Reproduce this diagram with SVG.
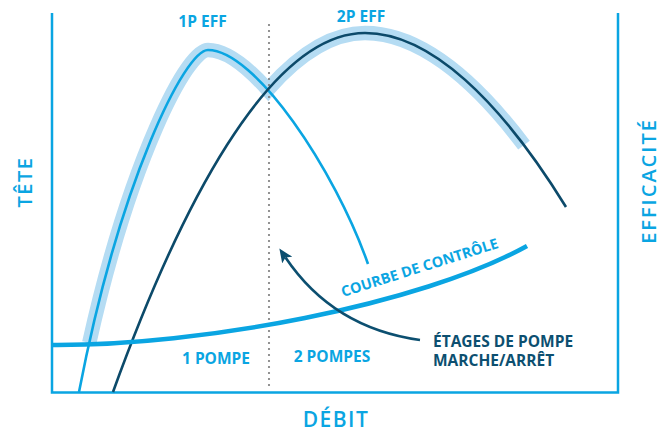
<svg xmlns="http://www.w3.org/2000/svg" width="667" height="430" viewBox="0 0 667 430">
<style>
.t{font-family:"Open Sans","Liberation Sans",sans-serif;}
.lb{fill:#0aa5e2;}
.nv{fill:#0c4f70;}
.b{font-weight:700;font-size:15.5px;}
.ax{font-weight:600;font-size:20px;letter-spacing:1.5px;}
.curve{fill:none;stroke-linecap:butt;}
</style>
<defs>
<marker id="ah" markerUnits="userSpaceOnUse" viewBox="0 0 14 12" refX="3" refY="6" markerWidth="14" markerHeight="12" orient="auto">
<path d="M0,0 L14,6 L0,12 L3,6 Z" fill="#0c4f70"/>
</marker>
</defs>
<rect width="667" height="430" fill="#ffffff"/>
<g id="axes">
<path d="M52,13 V392.5 H618 V13" fill="none" stroke="#0aa5e2" stroke-width="2.5"/>
</g>
<g id="connectors">
<path id="halo" class="curve" d="M89.26,342.71 C130.13,160.03 186.84,50 208,50 C224.92,50 246.12,65.55 267.86,89.84 L269.2,88.08 C299.85,53.69 332.02,33 365,33 C416.35,33 470.82,74.81 523.97,145.13" stroke="#b5dcf3" stroke-width="14.5" stroke-linejoin="miter"/>
<path id="divider" d="M269,25 V386" stroke="#7a7a7a" stroke-width="2.2" stroke-linecap="round" stroke-dasharray="0 6" fill="none"/>
<path id="curve-1p" class="curve" d="M79,392 C120,180 185,50 208,50 C255,50 335,170 368,264" stroke="#0aa5e2" stroke-width="2.6"/>
<path id="curve-2p" class="curve" d="M113,392 C178,212 268,33 365,33 C430,33 500,100 566,207" stroke="#0c4a6a" stroke-width="2.6"/>
<path id="control-curve" class="curve" d="M52,345 C200,346 420,305 527,246" stroke="#0aa5e2" stroke-width="4.5"/>
<path id="arrow" class="curve" d="M420,340 Q333,328 285.5,257.5" stroke="#0c4f70" stroke-width="2.6" marker-end="url(#ah)"/>
</g>
<g id="label-1p-eff"><text class="t lb b" x="202.5" y="26.5" text-anchor="middle">1P EFF</text></g>
<g id="label-2p-eff"><text class="t lb b" x="361" y="22" text-anchor="middle">2P EFF</text></g>
<g id="label-tete"><text class="t lb ax" transform="translate(31.5,182) rotate(-90)" text-anchor="middle">TÊTE</text></g>
<g id="label-efficacite"><text class="t lb ax" transform="translate(656,181) rotate(-90)" text-anchor="middle" style="letter-spacing:2px">EFFICACITÉ</text></g>
<g id="label-debit"><text class="t lb ax" x="336" y="426.5" text-anchor="middle" style="font-size:21px">DÉBIT</text></g>
<g id="label-1-pompe"><text class="t lb b" x="216" y="364" text-anchor="middle">1 POMPE</text></g>
<g id="label-2-pompes"><text class="t lb b" x="332" y="362" text-anchor="middle">2 POMPES</text></g>
<g id="label-courbe"><text class="t lb b" transform="translate(343,297) rotate(-17.5)" style="font-size:14.5px">COURBE DE CONTRÔLE</text></g>
<g id="label-etages"><text class="t nv b" x="433" y="347">ÉTAGES DE POMPE</text><text class="t nv b" x="433" y="366">MARCHE/ARRÊT</text></g>
</svg>
